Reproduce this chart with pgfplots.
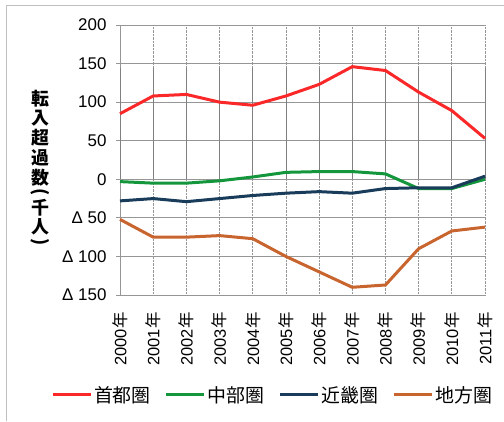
\documentclass[border=0pt]{standalone}
\usepackage{fontspec}
\setmainfont{Liberation Sans}
\newfontfamily\cjk{Noto Sans CJK JP}
\usepackage{pgfplots}
\pgfplotsset{compat=1.18}
\definecolor{cred}{RGB}{250,40,40}
\definecolor{cgreen}{RGB}{20,150,60}
\definecolor{cnavy}{RGB}{25,60,90}
\definecolor{corange}{RGB}{200,100,45}
\definecolor{cgrid}{RGB}{150,150,150}
\begin{document}
\begin{tikzpicture}[x=1bp,y=1bp]
\useasboundingbox (-120,-126) rectangle (384,295);
\draw[cgrid!60, line width=1bp] (-113,-126) -- (-113,290) -- (384,290);
\begin{axis}[
  at={(0,0)}, anchor=south west,
  scale only axis, width=365bp, height=270bp,
  xmin=0, xmax=11, ymin=-150, ymax=200,
  xtick={0,...,11},
  xticklabels={2000{\cjk 年},2001{\cjk 年},2002{\cjk 年},2003{\cjk 年},2004{\cjk 年},2005{\cjk 年},2006{\cjk 年},2007{\cjk 年},2008{\cjk 年},2009{\cjk 年},2010{\cjk 年},2011{\cjk 年}},
  xticklabel style={rotate=90, anchor=east, font=\fontsize{16.5}{18}\selectfont},
  xticklabel shift=10bp,
  ytick={-150,-100,-50,0,50,100,150,200},
  yticklabels={Δ 150,Δ 100,Δ 50,0,50,100,150,200},
  yticklabel style={font=\fontsize{17}{20}\selectfont},
  yticklabel shift=6bp,
  /pgf/number format/assume math mode=true,
  xtick style={draw=none},
  ytick style={draw=cgrid, line width=0.8bp},
  major tick length=4bp,
  tick align=outside,
  axis line style={draw=none},
  ymajorgrids, xmajorgrids,
  y grid style={cgrid, line width=0.8bp},
  x grid style={cgrid, densely dotted, line width=0.8bp},
  xtick pos=left, ytick pos=left,
  clip=false,
  legend columns=4,
  legend style={draw=none, fill=none, at={(0.418,-0.37)}, anchor=center,
    font=\fontsize{19}{22}\selectfont\cjk,
    /tikz/every even column/.append style={column sep=12bp},
    /tikz/every odd column/.append style={column sep=0bp}},
  legend image code/.code={\draw[#1] (0bp,0bp) -- (38bp,0bp);},
  every axis plot/.append style={line width=3bp},
]
\draw[cgrid, line width=0.8bp] (axis cs:0,-150) -- (axis cs:0,200);
\draw[cgrid, line width=0.8bp] (axis cs:0,-150) -- (axis cs:11,-150);
\draw[cgrid, line width=0.8bp] (axis cs:0,0) -- (axis cs:11,0);
\pgfplotsinvokeforeach{0,...,11}{\draw[gray, line width=0.8bp] (axis cs:#1,0) -- ++(0,-4bp);}
\addplot[cred] coordinates {(0,85) (1,108) (2,110) (3,100) (4,96) (5,108) (6,123) (7,146) (8,141) (9,113) (10,89) (11,53)};
\addlegendentry{首都圏}
\addplot[cgreen] coordinates {(0,-3) (1,-5) (2,-5) (3,-2) (4,3) (5,9) (6,10) (7,10) (8,7) (9,-12) (10,-12) (11,0)};
\addlegendentry{中部圏}
\addplot[cnavy] coordinates {(0,-28) (1,-25) (2,-29) (3,-25) (4,-21) (5,-18) (6,-16) (7,-18) (8,-12) (9,-11) (10,-11) (11,4)};
\addlegendentry{近畿圏}
\addplot[corange] coordinates {(0,-52) (1,-75) (2,-75) (3,-73) (4,-77) (5,-100) (6,-120) (7,-140) (8,-137) (9,-90) (10,-67) (11,-62)};
\addlegendentry{地方圏}
\end{axis}
\node[font=\fontsize{18}{19}\selectfont\cjk\bfseries, align=center, inner sep=0pt] at (-80,127) {\shortstack{転\\入\\超\\過\\数\\\rotatebox{-90}{(}\\千\\人\\\rotatebox{-90}{)}}};
\end{tikzpicture}
\end{document}
